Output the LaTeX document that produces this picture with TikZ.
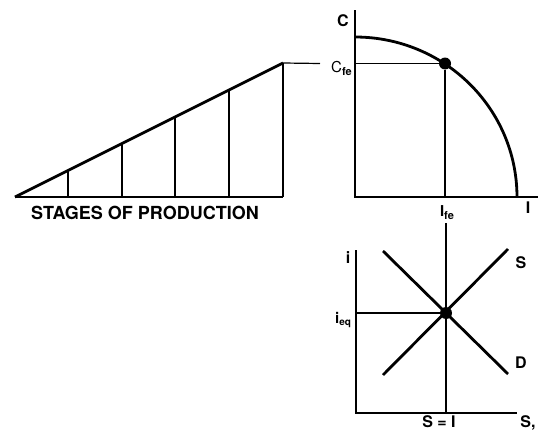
\documentclass[tikz,border=0pt]{standalone}
\usepackage{fontspec}
\setmainfont{TeX Gyre Heros}
\begin{document}
\begin{tikzpicture}[x=1pt,y=-1pt,
  axis/.style={line width=2.4pt},
  thin/.style={line width=1.2pt},
  curve/.style={line width=2.8pt},
  lbl/.style={font=\fontsize{16}{18}\selectfont\bfseries, inner sep=0pt},
  sub/.style={font=\fontsize{15}{17}\selectfont, inner sep=0pt},
  dot/.style={circle, fill=black, inner sep=0pt, minimum size=12pt}]
\useasboundingbox (0,0) rectangle (539,431);
% ---- stages of production
\coordinate (t0) at (15,197);
\coordinate (t5) at (283,63);
\coordinate (b5) at (283,197);
\draw[curve] (t0) -- (t5);
\draw[axis] (t0) -- (b5);
\draw[line width=2.8pt] (b5) -- (t5);
\foreach \x in {68,122,175,229}{
  \draw[thin] ({\x},197) -- ({\x},{197-(\x-15)*0.5});
}
\node[font=\fontsize{18}{20}\selectfont\bfseries, inner sep=0pt] (stages) at (145,213) {STAGES OF PRODUCTION};
% ---- PPF
\coordinate (co) at (355,197);
\coordinate (ctop) at (355,10);
\coordinate (iend) at (538,197);
\draw[axis] (ctop) -- (co) -- (iend);
\draw[curve] (355,37) arc[start angle=90,end angle=0,x radius=162,y radius=-160];
\node[dot] (pfe) at (445,63.5) {};
\coordinate (cfe) at (355,63.5);
\coordinate (ife) at (445,197);
\draw[thin] (cfe) -- (pfe) -- (ife);
\coordinate (lk) at (320,63.5);
\draw[thin] (t5) -- (lk);
\node[lbl] (C) at (343,21) {C};
\node[sub, anchor=east] (Cfe) at (352,68) {C\raisebox{-3pt}{\fontsize{11}{12}\selectfont\bfseries fe}};
\node[sub] (Ife) at (447,213) {\bfseries I\raisebox{-3pt}{\fontsize{11}{12}\selectfont\bfseries fe}};
\node[lbl] (Ilab) at (528,208) {I};
% ---- savings-investment
\coordinate (so) at (356,413);
\coordinate (itop) at (356,250);
\coordinate (send) at (517,413);
\draw[axis] (itop) -- (so) -- (send);
\coordinate (vt) at (446,223);
\coordinate (vb) at (446,413);
\draw[thin] (vt) -- (vb);
\node[dot] (peq) at (446,313) {};
\coordinate (ieq) at (356,313);
\draw[thin] (ieq) -- (peq);
\coordinate (s1) at (383,375);
\coordinate (s2) at (508,249);
\coordinate (d1) at (383,251);
\coordinate (d2) at (508,374);
\draw[curve] (s1) -- (s2);
\draw[curve] (d1) -- (d2);
\node[lbl] (Slab) at (521,263) {S};
\node[lbl] (Dlab) at (521,363) {D};
\node[lbl] (ilab) at (348,258) {i};
\node[sub] (ieqlab) at (343,320) {\bfseries i\raisebox{-2pt}{\fontsize{10}{11}\selectfont\bfseries eq}};
\node[lbl] (SI) at (439,422) {S = I};
\node[lbl] (Scomma) at (528,423) {S,};
\end{tikzpicture}
\end{document}
